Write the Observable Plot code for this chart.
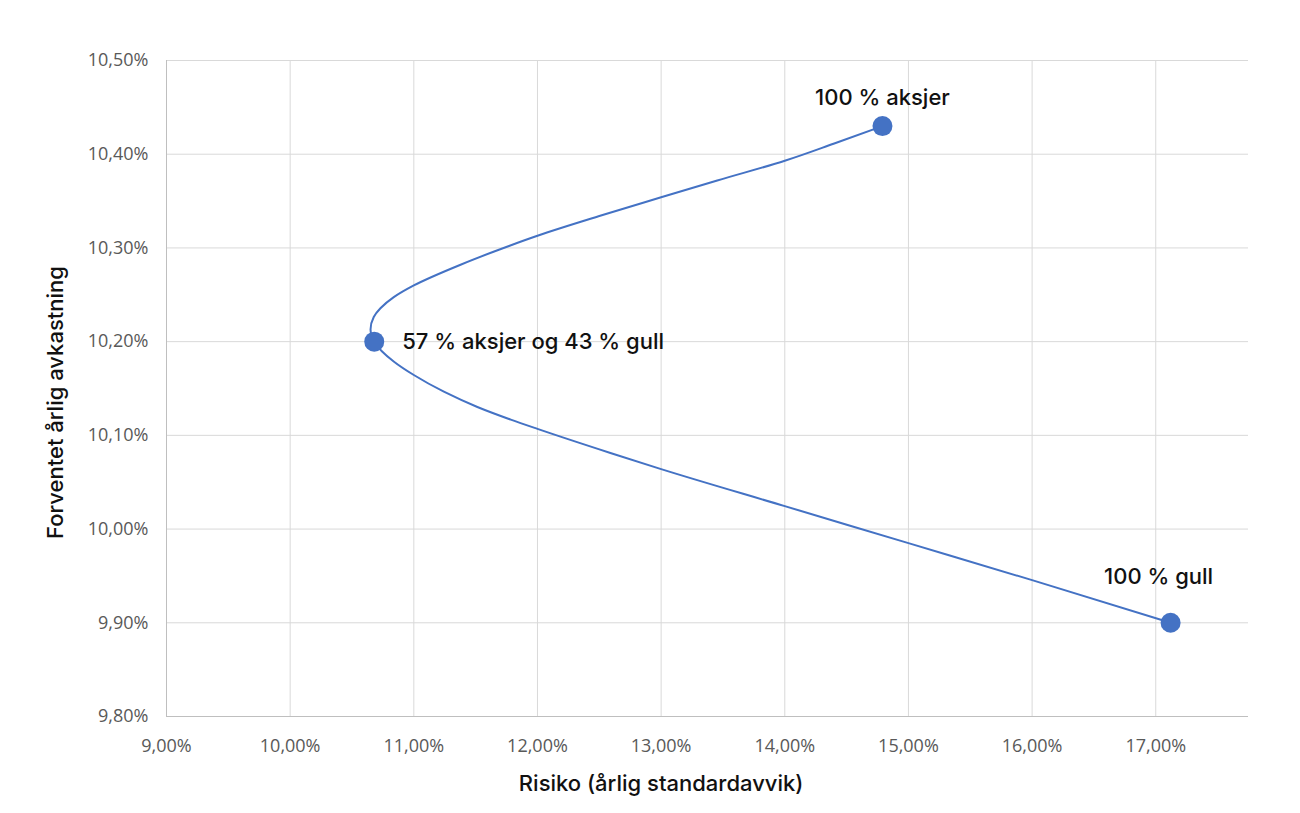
<!DOCTYPE html>
<html>
<head>
<meta charset="utf-8">
<script src="https://cdn.jsdelivr.net/npm/d3@7"></script>
<script src="https://cdn.jsdelivr.net/npm/@observablehq/plot@0.6"></script>
<style>
  html, body { margin: 0; padding: 0; background: #fff; }
  #chart svg { display: block; }
</style>
</head>
<body>
<div id="chart"></div>
<script>
// Frontier curve (risk %, return %)
const curveRisk   = [14.79, 14.40, 14.00, 13.454, 13.00, 12.50, 12.00, 11.65, 11.378, 11.00, 10.838, 10.73, 10.676, 10.65, 10.68, 10.84, 11.00, 11.243, 11.514, 11.784, 12.00, 12.59, 13.00, 14.00, 15.00, 16.00, 17.12];
const curveReturn = [10.430, 10.4114, 10.393, 10.372, 10.354, 10.334, 10.313, 10.2962, 10.2821, 10.2600, 10.2475, 10.2356, 10.2263, 10.213, 10.200, 10.1786, 10.1644, 10.1466, 10.1303, 10.1168, 10.1069, 10.0812, 10.064, 10.0245, 9.985, 9.9455, 9.900];

// Highlighted portfolios
const pointNames  = ["100 % aksjer", "57 % aksjer og 43 % gull", "100 % gull"];
const pointRisk   = [14.79, 10.68, 17.12];
const pointReturn = [10.430, 10.200, 9.900];

const xTicks = [9, 10, 11, 12, 13, 14, 15, 16, 17];
const yTicks = [9.8, 9.9, 10.0, 10.1, 10.2, 10.3, 10.4, 10.5];

const xTitle = "Risiko (årlig standardavvik)";
const yTitle = "Forventet årlig avkastning";

const curve = curveRisk.map((r, i) => ({risk: r, ret: curveReturn[i]}));
const points = pointNames.map((n, i) => ({name: n, risk: pointRisk[i], ret: pointReturn[i]}));

const fmt = d => d.toFixed(2).replace(".", ",") + "%";
const blue = "#4472C4";
const labelFont = "Inter, 'Noto Sans', sans-serif";

const chart = Plot.plot({
  width: 1300,
  height: 813,
  marginLeft: 166,
  marginRight: 52,
  marginTop: 60,
  marginBottom: 97,
  style: {fontFamily: "'Open Sans', 'Noto Sans', sans-serif", background: "#fff"},
  x: {domain: [9, 17.75], label: null},
  y: {domain: [9.8, 10.5], label: null},
  marks: [
    Plot.gridX(xTicks, {stroke: "#d9d9d9", strokeOpacity: 1, strokeWidth: 1}),
    Plot.gridY(yTicks, {stroke: "#d9d9d9", strokeOpacity: 1, strokeWidth: 1}),
    Plot.ruleX([9], {stroke: "#bfbfbf", strokeWidth: 1}),
    Plot.ruleY([9.8], {stroke: "#bfbfbf", strokeWidth: 1}),
    Plot.axisX(xTicks, {tickSize: 0, tickPadding: 23, tickFormat: fmt, fontSize: 18, fill: "#595959", label: null}),
    Plot.axisY(yTicks, {tickSize: 0, tickPadding: 18, tickFormat: fmt, fontSize: 18, fill: "#595959", label: null}),
    Plot.line(curve, {x: "risk", y: "ret", stroke: blue, strokeWidth: 2, curve: "monotone-y"}),
    Plot.dot(points, {x: "risk", y: "ret", r: 10, fill: blue, stroke: "none"}),
    Plot.text([points[0]], {x: "risk", y: "ret", text: "name", dy: -28, fontSize: 22, fontWeight: 500, fill: "#111", textAnchor: "middle", fontFamily: labelFont}),
    Plot.text([points[1]], {x: "risk", y: "ret", text: "name", dx: 28, fontSize: 22, fontWeight: 500, fill: "#111", textAnchor: "start", fontFamily: labelFont}),
    Plot.text([points[2]], {x: "risk", y: "ret", text: "name", dx: -12, dy: -46, fontSize: 22, fontWeight: 500, fill: "#111", textAnchor: "middle", fontFamily: labelFont}),
    Plot.text([xTitle], {x: 13, frameAnchor: "bottom", dy: 67, lineAnchor: "middle", textAnchor: "middle", text: d => d, fontSize: 22, fontWeight: 500, fill: "#111", fontFamily: labelFont}),
    Plot.text([yTitle], {y: 10.135, frameAnchor: "left", dx: -111, rotate: -90, lineAnchor: "middle", textAnchor: "middle", text: d => d, fontSize: 22, fontWeight: 500, fill: "#111", fontFamily: labelFont})
  ]
});

document.getElementById("chart").appendChild(chart);
</script>
</body>
</html>
